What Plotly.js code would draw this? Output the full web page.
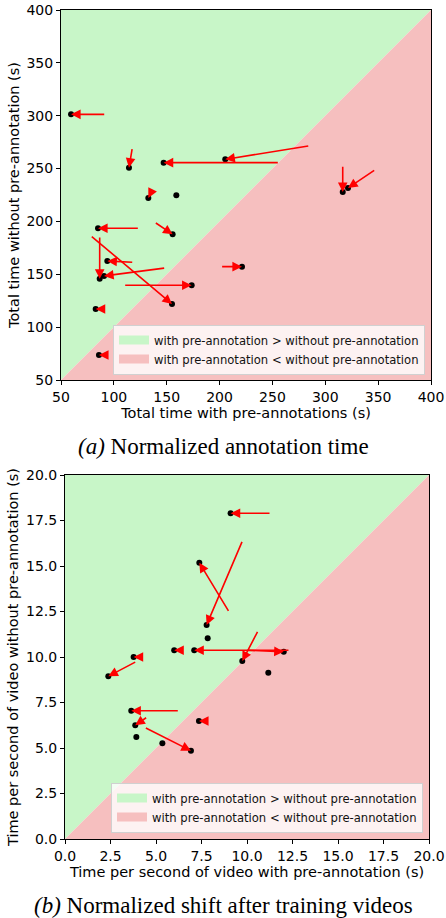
<!DOCTYPE html>
<html>
<head>
<meta charset="utf-8">
<script src="https://cdn.plot.ly/plotly-3.0.1.min.js"></script>
<style>html,body{margin:0;padding:0;background:#fff;}#chart{width:446px;height:918px;}</style>
</head>
<body>
<div id="chart"></div>
<script>
// ---- Panel (a): Normalized annotation time ----
const aStartX = [92.3, 117.5, 256.5, 285.3, 136.0, 159.1, 124.1, 138.3, 118.8, 86.6, 149.0, 109.3, 77.7, 90.0, 201.0, 93.2, 316.5, 347.7];
const aStartY = [301.3, 269.8, 255.6, 271.6, 229.0, 224.7, 193.5, 199.5, 161.3, 186.2, 156.0, 139.6, 186.9, 117.2, 157.2, 73.7, 253.1, 249.3];
const aEndX   = [59.5, 114.3, 147.1, 205.4, 132.6, 159.1, 85.0, 155.6, 93.8, 86.6, 90.7, 173.6, 155.0, 82.8, 221.2, 85.9, 316.5, 321.5];
const aEndY   = [301.3, 250.8, 255.6, 258.7, 222.2, 224.7, 193.5, 187.8, 162.6, 145.8, 148.4, 139.6, 121.9, 117.2, 157.2, 73.7, 227.8, 231.6];
const aRange  = [50, 400];
const aTicks  = [50, 100, 150, 200, 250, 300, 350, 400];

// ---- Panel (b): Normalized shift after training videos ----
const bStartX = [11.32, 9.03, 9.76, 7.84, 6.45, 12.36, 9.98, 10.62, 11.17, 4.36, 3.94, 6.28, 4.54, 3.92, 5.35, 4.36, 7.80];
const bStartY = [17.90, 12.45, 16.41, 11.03, 10.37, 10.37, 10.37, 11.46, 9.14, 10.00, 9.76, 7.05, 6.72, 5.60, 5.26, 6.14, 6.48];
const bEndX   = [9.10, 7.38, 7.78, 7.84, 6.00, 7.10, 12.02, 9.74, 11.17, 3.77, 2.38, 3.64, 3.86, 3.92, 5.35, 6.92, 7.36];
const bEndY   = [17.90, 15.18, 11.76, 11.03, 10.37, 10.37, 10.29, 9.78, 9.14, 10.00, 8.94, 7.05, 6.25, 5.60, 5.26, 4.85, 6.48];
const bRange  = [0, 20];
const bTicks  = [0, 2.5, 5, 7.5, 10, 12.5, 15, 17.5, 20];

const legendLabels = ['with pre-annotation > without pre-annotation', 'with pre-annotation < without pre-annotation'];
const captions = ['<i>(a)</i> Normalized annotation time', '<i>(b)</i> Normalized shift after training videos'];
const xTitles = ['Total time with pre-annotations (s)', 'Time per second of video with pre-annotation (s)'];
const yTitles = ['Total time without pre-annotation (s)', 'Time per second of video without pre-annotation (s)'];

const GREEN = 'rgb(200,246,200)';
const RED = 'rgb(246,191,191)';
const FONT = 'DejaVu Sans';

function regionTraces(r, xa, ya, leg) {
  const colors = [GREEN, RED];
  const polys = [
    {x: [r[0], r[0], r[1], r[0]], y: [r[0], r[1], r[1], r[0]]},
    {x: [r[0], r[1], r[1], r[0]], y: [r[0], r[0], r[1], r[0]]}
  ];
  const out = [];
  polys.forEach((p, i) => {
    out.push({x: p.x, y: p.y, xaxis: xa, yaxis: ya, type: 'scatter', mode: 'none',
      fill: 'toself', fillcolor: colors[i], showlegend: false, hoverinfo: 'skip'});
  });
  // legend-only entries with rectangular swatches
  colors.forEach((c, i) => {
    out.push({x: [null], y: [null], xaxis: xa, yaxis: ya, type: 'scatter', mode: 'lines',
      fill: 'toself', fillcolor: c, line: {color: c, width: 6}, name: legendLabels[i], legend: leg, hoverinfo: 'skip'});
  });
  return out;
}

function arrows(sx, sy, ex, ey, xa, ya) {
  const out = [];
  for (let i = 0; i < sx.length; i++) {
    if (sx[i] === ex[i] && sy[i] === ey[i]) continue;
    out.push({x: ex[i], y: ey[i], ax: sx[i], ay: sy[i], xref: xa, yref: ya, axref: xa, ayref: ya,
      text: '', showarrow: true, arrowhead: 2, arrowsize: 1.2, arrowwidth: 1.6, arrowcolor: '#ff0000', standoff: 0});
  }
  return out;
}

const traces = [
  ...regionTraces(aRange, 'x', 'y', 'legend'),
  ...regionTraces(bRange, 'x2', 'y2', 'legend2'),
  {x: aEndX, y: aEndY, xaxis: 'x', yaxis: 'y', type: 'scatter', mode: 'markers', marker: {color: '#000', size: 6}, showlegend: false, hoverinfo: 'skip'},
  {x: bEndX, y: bEndY, xaxis: 'x2', yaxis: 'y2', type: 'scatter', mode: 'markers', marker: {color: '#000', size: 6}, showlegend: false, hoverinfo: 'skip'}
];

function axis(domain, range, ticks, title, anchor, fmt) {
  return {
    domain: domain, range: range, anchor: anchor, tickvals: ticks, tickformat: fmt,
    ticks: 'outside', ticklen: 4, tickwidth: 1, tickcolor: '#000',
    showline: true, linecolor: '#000', linewidth: 1, mirror: true,
    showgrid: false, zeroline: false,
    tickfont: {family: FONT, size: 14, color: '#000'},
    title: {text: title, font: {family: FONT, size: 14.5, color: '#000'}, standoff: 3}
  };
}

const H = 918, W = 446;
const legendStyle = {
  bgcolor: 'rgba(255,255,255,0.8)', bordercolor: '#d0d0d0', borderwidth: 1,
  font: {family: FONT, size: 11.6, color: '#111'}, xanchor: 'right', yanchor: 'bottom',
  traceorder: 'normal', itemwidth: 30, tracegroupgap: 0
};

const layout = {
  width: W, height: H, margin: {l: 0, r: 0, t: 0, b: 0},
  paper_bgcolor: '#fff', plot_bgcolor: '#fff', showlegend: true,
  xaxis: axis([61 / W, 431 / W], aRange, aTicks, xTitles[0], 'y', 'd'),
  yaxis: axis([1 - 380 / H, 1 - 10 / H], aRange, aTicks, yTitles[0], 'x', 'd'),
  xaxis2: axis([65 / W, 429 / W], bRange, bTicks, xTitles[1], 'y2', '.1f'),
  yaxis2: axis([1 - 839 / H, 1 - 475 / H], bRange, bTicks, yTitles[1], 'x2', '.1f'),
  legend: Object.assign({x: 425 / W, y: 1 - 375 / H}, legendStyle),
  legend2: Object.assign({x: 423 / W, y: 1 - 833 / H}, legendStyle),
  annotations: [
    ...arrows(aStartX, aStartY, aEndX, aEndY, 'x', 'y'),
    ...arrows(bStartX, bStartY, bEndX, bEndY, 'x2', 'y2'),
    {text: captions[0], xref: 'paper', yref: 'paper', x: 0.5, y: 1 - 446 / H, showarrow: false,
     font: {family: 'Liberation Serif', size: 23, color: '#000'}, xanchor: 'center', yanchor: 'middle'},
    {text: captions[1], xref: 'paper', yref: 'paper', x: 0.5, y: 1 - 905 / H, showarrow: false,
     font: {family: 'Liberation Serif', size: 23, color: '#000'}, xanchor: 'center', yanchor: 'middle'}
  ]
};

Plotly.newPlot('chart', traces, layout, {staticPlot: true, displayModeBar: false});
</script>
</body>
</html>
